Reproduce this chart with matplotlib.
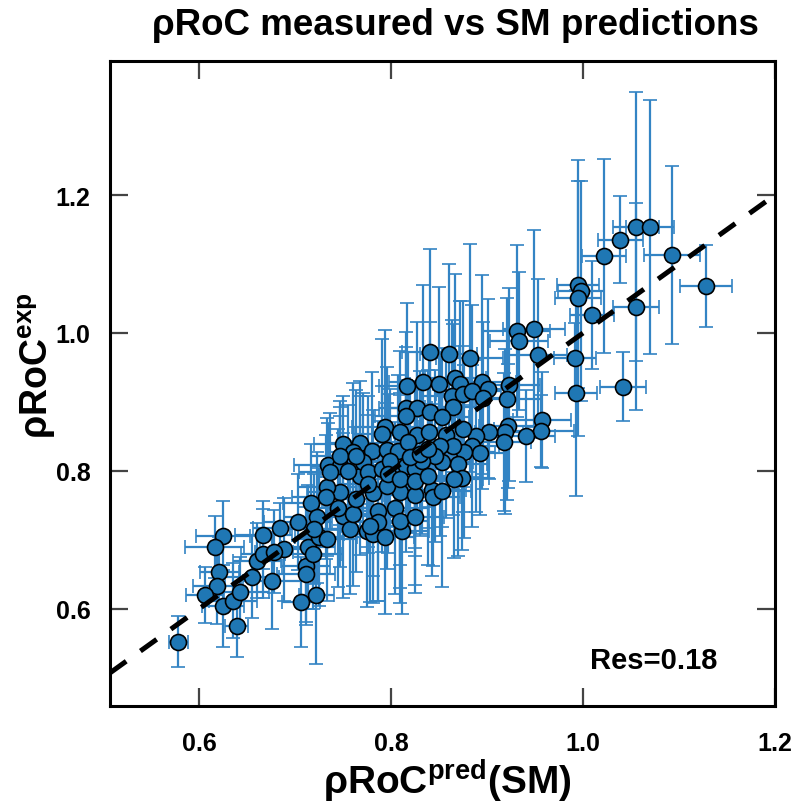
import matplotlib
matplotlib.use("Agg")
import matplotlib.pyplot as plt
import numpy as np

plt.rcParams['font.family'] = ['Liberation Sans', 'DejaVu Sans']
plt.rcParams['font.weight'] = 'bold'
plt.rcParams['mathtext.fontset'] = 'custom'
plt.rcParams['mathtext.bf'] = 'Liberation Sans:bold'
plt.rcParams['mathtext.rm'] = 'Liberation Sans:bold'

# predicted (SM) values
x_pred = [
    0.578, 0.625, 0.616, 0.621, 0.619, 0.606, 0.625, 0.635, 0.643, 0.639,
    0.655, 0.660, 0.667, 0.666, 0.676, 0.684, 0.688, 0.678, 0.706, 0.722,
    0.711, 0.711, 0.713, 0.719, 0.703, 0.717, 0.723, 0.725, 0.733, 0.747,
    0.733, 0.750, 0.757, 0.745, 0.760, 0.732, 0.781, 0.775, 0.781, 0.786,
    0.786, 0.794, 0.804, 0.809, 0.811, 0.809, 0.825, 0.825, 0.843, 0.768,
    0.720, 0.796, 0.844,
    0.817, 0.833, 0.815, 0.827, 0.815, 0.840, 0.841, 0.794, 0.791, 0.809,
    0.827, 0.750, 0.768, 0.760, 0.780, 0.796, 0.807, 0.818, 0.734, 0.747,
    0.755, 0.771, 0.776, 0.791, 0.799, 0.815, 0.825, 0.860, 0.882, 0.931,
    0.949, 0.933, 0.953, 0.850, 0.867, 0.872, 0.895, 0.901, 0.923, 0.863,
    0.875, 0.884, 0.896, 0.921, 0.865, 0.853, 0.957, 0.956, 0.922, 0.919,
    0.918, 0.941, 0.902, 0.888, 0.884, 0.893, 0.876, 0.870, 0.874, 0.866,
    0.853, 0.853, 0.857, 0.864, 0.851, 0.839, 0.846, 0.832, 0.875,
    0.747, 0.763, 0.820, 0.830, 0.776, 0.797, 0.809, 0.825, 0.838, 0.763,
    0.778, 0.736, 0.838,
    1.055, 1.070, 1.039, 1.022, 1.093, 1.128, 0.995, 0.998, 0.995, 1.009,
    1.055, 0.992, 0.993, 1.042,
]
# measured values
y_exp = [
    0.552, 0.706, 0.690, 0.654, 0.633, 0.620, 0.604, 0.612, 0.625, 0.575,
    0.646, 0.670, 0.707, 0.680, 0.641, 0.717, 0.686, 0.683, 0.610, 0.620,
    0.662, 0.651, 0.690, 0.680, 0.726, 0.754, 0.733, 0.704, 0.701, 0.770,
    0.777, 0.735, 0.716, 0.746, 0.738, 0.762, 0.768, 0.713, 0.709, 0.742,
    0.726, 0.704, 0.746, 0.770, 0.713, 0.728, 0.765, 0.733, 0.772, 0.793,
    0.716, 0.778, 0.762,
    0.923, 0.929, 0.891, 0.891, 0.880, 0.886, 0.972, 0.864, 0.854, 0.857,
    0.852, 0.839, 0.841, 0.828, 0.829, 0.830, 0.829, 0.842, 0.809, 0.807,
    0.800, 0.813, 0.799, 0.803, 0.814, 0.807, 0.803, 0.970, 0.964, 1.003,
    1.006, 0.988, 0.968, 0.926, 0.935, 0.926, 0.929, 0.919, 0.925, 0.909,
    0.912, 0.916, 0.906, 0.904, 0.893, 0.878, 0.874, 0.858, 0.865, 0.857,
    0.842, 0.851, 0.857, 0.851, 0.836, 0.826, 0.828, 0.810, 0.790, 0.788,
    0.813, 0.771, 0.852, 0.836, 0.836, 0.857, 0.822, 0.814, 0.861,
    0.822, 0.822, 0.820, 0.825, 0.781, 0.796, 0.788, 0.786, 0.793, 0.759,
    0.720, 0.799, 0.832,
    1.154, 1.154, 1.135, 1.112, 1.113, 1.068, 1.070, 1.061, 1.051, 1.026,
    1.038, 0.964, 0.913, 0.922,
]
x_err = [
    0.010, 0.028, 0.031, 0.020, 0.025, 0.020, 0.022, 0.025, 0.030, 0.012,
    0.028, 0.025, 0.030, 0.022, 0.030, 0.028, 0.025, 0.020, 0.020, 0.018,
    0.025, 0.030, 0.028, 0.030, 0.035, 0.030, 0.035, 0.025, 0.030, 0.035,
    0.030, 0.028, 0.032, 0.030, 0.025, 0.035, 0.030, 0.028, 0.030, 0.032,
    0.025, 0.030, 0.035, 0.030, 0.028, 0.030, 0.032, 0.030, 0.035, 0.030,
    0.025, 0.030, 0.028,
    0.030, 0.035, 0.028, 0.030, 0.032, 0.030, 0.030, 0.035, 0.030, 0.028,
    0.032, 0.030, 0.032, 0.028, 0.030, 0.035, 0.030, 0.028, 0.035, 0.030,
    0.028, 0.032, 0.030, 0.035, 0.030, 0.028, 0.032, 0.030, 0.035, 0.035,
    0.032, 0.030, 0.030, 0.030, 0.032, 0.028, 0.035, 0.030, 0.032, 0.030,
    0.028, 0.030, 0.032, 0.035, 0.030, 0.028, 0.030, 0.035, 0.030, 0.032,
    0.028, 0.030, 0.035, 0.030, 0.028, 0.030, 0.032, 0.030, 0.028, 0.030,
    0.032, 0.030, 0.028, 0.030, 0.035, 0.030, 0.028, 0.030, 0.032,
    0.030, 0.028, 0.030, 0.032, 0.030, 0.028, 0.030, 0.035, 0.030, 0.028,
    0.030, 0.032, 0.030,
    0.024, 0.025, 0.023, 0.023, 0.029, 0.027, 0.022, 0.024, 0.024, 0.023,
    0.024, 0.022, 0.022, 0.024,
]
y_err = [
    0.037, 0.050, 0.045, 0.050, 0.055, 0.040, 0.060, 0.055, 0.050, 0.045,
    0.060, 0.055, 0.050, 0.065, 0.070, 0.036, 0.075, 0.060, 0.065, 0.100,
    0.085, 0.070, 0.090, 0.080, 0.070, 0.085, 0.095, 0.100, 0.090, 0.110,
    0.100, 0.120, 0.095, 0.115, 0.105, 0.090, 0.120, 0.110, 0.100, 0.130,
    0.115, 0.112, 0.125, 0.140, 0.120, 0.120, 0.130, 0.110, 0.125, 0.115,
    0.080, 0.120, 0.100,
    0.120, 0.140, 0.110, 0.125, 0.100, 0.130, 0.150, 0.140, 0.137, 0.117,
    0.120, 0.070, 0.089, 0.100, 0.114, 0.120, 0.110, 0.130, 0.060, 0.085,
    0.095, 0.100, 0.110, 0.120, 0.105, 0.125, 0.115, 0.130, 0.165, 0.125,
    0.143, 0.100, 0.110, 0.140, 0.150, 0.120, 0.155, 0.130, 0.140, 0.110,
    0.135, 0.125, 0.110, 0.146, 0.120, 0.100, 0.070, 0.052, 0.090, 0.120,
    0.100, 0.067, 0.069, 0.110, 0.117, 0.090, 0.125, 0.133, 0.105, 0.115,
    0.095, 0.140, 0.120, 0.100, 0.130, 0.110, 0.125, 0.105, 0.120,
    0.080, 0.095, 0.110, 0.120, 0.100, 0.115, 0.125, 0.110, 0.130, 0.105,
    0.110, 0.085, 0.115,
    0.195, 0.184, 0.063, 0.141, 0.129, 0.060, 0.150, 0.160, 0.200, 0.078,
    0.150, 0.050, 0.150, 0.050,
]

res_value = 0.18

fig = plt.figure(figsize=(7.94, 8.12), dpi=100)
ax = fig.add_axes([0.1385, 0.1293, 0.8375, 0.794])

ax.errorbar(x_pred, y_exp, xerr=x_err, yerr=y_err, fmt='o', ms=11.5,
            mfc='#1f77b4', mec='black', mew=1.2,
            ecolor='#3384c4', elinewidth=1.6, capsize=5, capthick=1.6,
            zorder=2)

# identity line y = x
ax.axline((0, 0), slope=1, color='black', lw=3.6, ls=(0, (4, 3.5)), zorder=3)

ax.set_xlim(0.507, 1.2)
ax.set_ylim(0.459, 1.394)
ax.set_xticks([0.6, 0.8, 1.0, 1.2])
ax.set_yticks([0.6, 0.8, 1.0, 1.2])
ax.set_xticklabels(['0.6', '0.8', '1.0', '1.2'])
ax.set_yticklabels(['0.6', '0.8', '1.0', '1.2'])
ax.tick_params(direction='in', top=True, right=True, length=13,
               width=1.6, color='#444444', labelsize=18)
ax.tick_params(axis='x', pad=18)
ax.tick_params(axis='y', pad=14)
for lab in ax.get_xticklabels() + ax.get_yticklabels():
    lab.set_fontweight('bold')
for sp in ax.spines.values():
    sp.set_linewidth(2.2)
    sp.set_color('black')

ax.text(0.818, 0.072, f'Res={res_value}', transform=ax.transAxes,
        fontsize=21, fontweight='bold', ha='center', va='center')

fig.text(0.573, 0.968, 'ρRoC measured vs SM predictions', fontsize=26.5,
         fontweight='bold', ha='center', va='center')
fig.text(0.563, 0.038, r'ρRoC$^{\mathbf{pred}}$(SM)', fontsize=28,
         fontweight='bold', ha='center', va='center')
fig.text(0.047, 0.55, r'ρRoC$^{\mathbf{exp}}$', fontsize=27,
         fontweight='bold', ha='center', va='center', rotation=90)

fig.savefig('out.png', dpi=100)
